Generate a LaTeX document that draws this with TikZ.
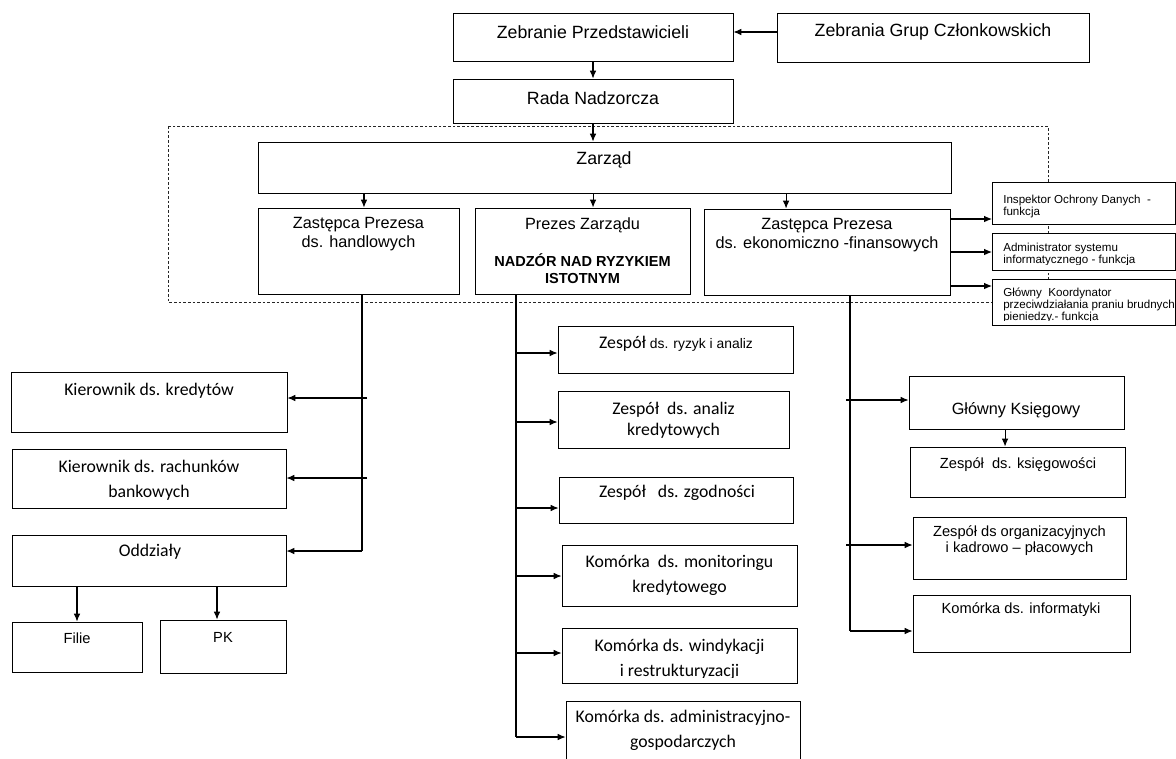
\documentclass[tikz,border=0pt]{standalone}
\usepackage{fontspec}
\setmainfont{Liberation Sans}
\newfontfamily\calfont{Carlito}
\usetikzlibrary{arrows.meta,fit}

\tikzset{
  box/.style={draw, fill=white, inner sep=0pt, line width=0.6pt},
  txbig/.style={font=\fontsize{13.3}{16}\selectfont, inner sep=0pt},
  txmid/.style={font=\fontsize{12.2}{14.3}\selectfont, align=center, inner sep=0pt},
  txbold/.style={font=\bfseries\fontsize{10.9}{12.8}\selectfont, align=center, inner sep=0pt},
  txcal/.style={font=\calfont\fontsize{13.3}{18.7}\selectfont, align=center, inner sep=0pt},
  txsmall/.style={font=\fontsize{11}{12}\selectfont, align=center, inner sep=0pt},
  txside/.style={font=\fontsize{8.7}{9}\selectfont, align=left, anchor=west, inner sep=0pt},
  conn/.style={line width=0.8pt},
  arr/.style={->, line width=0.8pt},
}

\begin{document}
\begin{tikzpicture}[x=0.75pt, y=-0.75pt, >={Latex[length=6pt,width=5pt]}]
\useasboundingbox (0,0) rectangle (1176,758);

% ramka Zarzadu
\draw[black!85, line width=0.5pt, dash pattern=on 2pt off 1.5pt] (168,126) rectangle (1048,302);

% gora
\node[box, fit={(453,13) (733,61)}] (zp) {};
\node[box, fit={(777,13) (1089,62)}] (zgc) {};
\node[box, fit={(453,79) (733,123)}] (rn) {};
\node[txbig] (zpt) at (593,32) {Zebranie Przedstawicieli};
\node[txbig] (zgct) at (933,32) {Zebrania Grup Członkowskich};
\node[txbig] (rnt) at (593,98) {Rada Nadzorcza};

\draw[arr] (zgc.west |- zpt) -- (zp.east |- zpt);
\draw[arr] (zp.south) -- (rn.north);

% Zarzad
\node[box, fit={(258,142) (951,193)}] (zar) {};
\node[txbig] (zart) at (604,160) {Zarząd};
\draw[arr] (rn.south) -- (rn.south |- zar.north);

\node[box, fit={(258,208) (459,294)}] (zh) {};
\node[box, fit={(475,208) (690,294)}] (prez) {};
\node[box, fit={(704,209) (950,295)}] (zef) {};
\node[txmid] (zht) at (358.5,234.5) {Zastępca Prezesa\\ds. handlowych};
\node[txmid] (prezt) at (582.5,225) {Prezes Zarządu};
\node[txbold] (prezb) at (582.5,268.5) {NADZÓR NAD RYZYKIEM\\ISTOTNYM};
\node[txmid] (zeft) at (827,235) {Zastępca Prezesa\\ds. ekonomiczno -finansowych};

\draw[arr] ([xshift=4.1pt]zh.north |- zar.south) -- ([xshift=4.1pt]zh.north);
\draw[arr] ([xshift=7.9pt]prez.north |- zar.south) -- ([xshift=7.9pt]prez.north);
\draw[arr] ([xshift=-30.7pt]zef.north |- zar.south) -- ([xshift=-30.7pt]zef.north);

% funkcje
\node[box, fit={(992,182) (1175,224)}] (iod) {};
\node[box, fit={(992,233) (1175,270)}] (asi) {};
\node[box, fit={(992,279) (1175,325)}] (gko) {};
\node[txside] (iodt) at (1003,206.5) {Inspektor Ochrony Danych\ \ -\\funkcja};
\begin{scope}
  \clip (992,233) rectangle (1175,264);
  \node[txside] (asit) at (1003,254) {Administrator systemu\\informatycznego - funkcja};
\end{scope}
\begin{scope}
  \clip (992,279) rectangle (1175,320);
  \node[txside] (gkot) at (1003,305) {Główny\ \ Koordynator\\przeciwdziałania praniu brudnych\\pieniedzy.- funkcja};
\end{scope}

\coordinate (s1) at (992,219);
\coordinate (s2) at (992,252);
\coordinate (s3) at (992,286);
\draw[arr] (s1 -| zef.east) -- (s1);
\draw[arr] (s2 -| zef.east) -- (s2);
\draw[arr] (s3 -| zef.east) -- (s3);

% pion handlowy
\node[box, fit={(11,372) (287,432)}] (kk) {};
\node[box, fit={(12,449) (286,508)}] (kr) {};
\node[box, fit={(12,535) (286,586)}] (odd) {};
\node[box, fit={(12,622) (142,672)}] (fil) {};
\node[box, fit={(160,620) (286,673)}] (pk) {};
\node[txcal] (kkt) at (149,391) {Kierownik ds. kredytów};
\node[txcal] (krt) at (149,480.5) {Kierownik ds. rachunków\\bankowych};
\node[txcal] (oddt) at (150,552) {Oddziały};
\node[txsmall] (filt) at (77,638) {Filie};
\node[txsmall] (pkt) at (223,637) {PK};

\coordinate (h3) at (362,551);
\coordinate (h1) at (367,398);
\coordinate (h2) at (367,478);
\draw[conn] (h3 |- zh.south) -- (h3);
\draw[arr] (h1) -- (h1 -| kk.east);
\draw[arr] (h2) -- (h2 -| kr.east);
\draw[arr] (h3) -- (h3 -| odd.east);
\draw[arr] (fil.north |- odd.south) -- (fil.north);
\draw[arr] ([xshift=-4.5pt]pk.north |- odd.south) -- ([xshift=-4.5pt]pk.north);

% pion prezesa
\node[box, fit={(558,326) (793,373)}] (zr) {};
\node[box, fit={(558,391) (789,448)}] (za) {};
\node[box, fit={(559,477) (793,523)}] (zz) {};
\node[box, fit={(562,545) (797,606)}] (km) {};
\node[box, fit={(562,628) (797,683)}] (kw) {};
\node[box, fit={(566,701) (800,775)}] (ka) {};
\node[txcal] (zrt) at (676,344) {Zespół{\rmfamily\fontsize{10.4}{12}\selectfont\ ds. ryzyk i analiz}};
\node[txcal, font=\calfont\fontsize{13.3}{15.8}\selectfont] (zat) at (673.5,420.5) {Zespół\ \ ds. analiz\\kredytowych};
\node[txcal] (zzt) at (677,493) {Zespół\ \ \ ds. zgodności};
\node[txcal] (kmt) at (679.5,575.5) {Komórka\ \ ds. monitoringu\\kredytowego};
\begin{scope}
  \clip (562,628) rectangle (797,677);
  \node[txcal] (kwt) at (679.5,659) {Komórka ds. windykacji\\i restrukturyzacji};
\end{scope}
\node[txcal] (kat) at (683,730) {Komórka ds. administracyjno-\\gospodarczych};

\coordinate (p1) at (516,353);
\coordinate (p2) at (516,422);
\coordinate (p3) at (516,508);
\coordinate (p4) at (516,576);
\coordinate (p5) at (516,653);
\coordinate (p6) at (516,737);
\draw[conn] (p6 |- prez.south) -- (p6);
\draw[arr] (p1) -- (p1 -| zr.west);
\draw[arr] (p2) -- (p2 -| za.west);
\draw[arr] (p3) -- (p3 -| zz.west);
\draw[arr] (p4) -- (p4 -| km.west);
\draw[arr] (p5) -- (p5 -| kw.west);
\draw[arr] (p6) -- (p6 -| ka.west);

% pion ekonomiczno-finansowy
\node[box, fit={(909,376) (1124,429)}] (gk) {};
\node[box, fit={(910,447) (1125,497)}] (zk) {};
\node[box, fit={(913,517) (1126,579)}] (zo) {};
\node[box, fit={(913,595) (1130,652)}] (ki) {};
\node[txmid] (gkt) at (1016,410) {Główny Księgowy};
\node[txsmall] (zkt) at (1018,465) {Zespół\ \ ds. księgowości};
\node[txsmall] (zot) at (1019.5,541) {Zespół ds organizacyjnych\\i kadrowo -- płacowych};
\node[txsmall] (kit) at (1021,610) {Komórka ds. informatyki};

\coordinate (e1) at (846,400);
\coordinate (e2) at (846,545);
\coordinate (e3) at (850,631);
\draw[conn] (e3 |- zef.south) -- (e3);
\draw[arr] (e1) -- (e1 -| gk.west);
\draw[arr] (e2) -- (e2 -| zo.west);
\draw[arr] (e3) -- (e3 -| ki.west);
\draw[arr] ([xshift=-8.6pt]gk.south) -- ([xshift=-8.6pt]gk.south |- zk.north);

\end{tikzpicture}
\end{document}
